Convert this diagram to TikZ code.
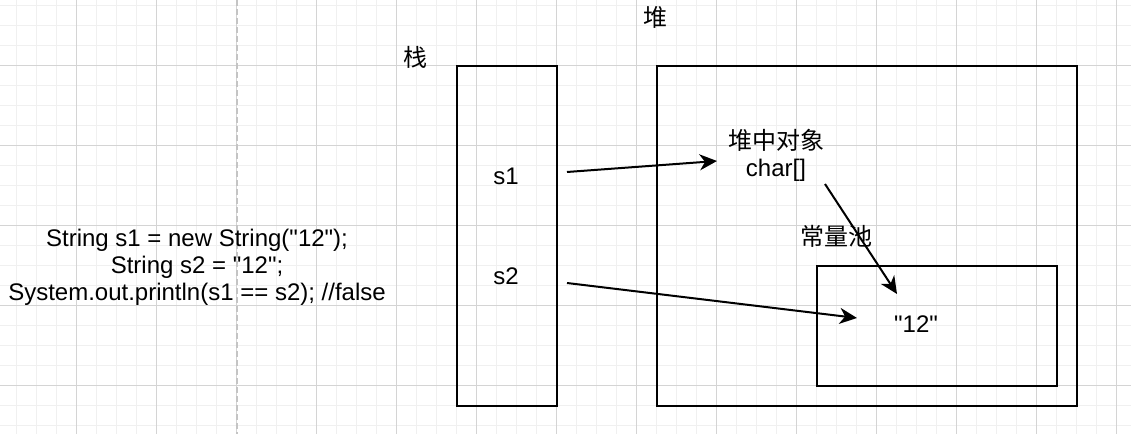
\documentclass[tikz,border=0pt]{standalone}
\usepackage{fontspec}
\setmainfont{Liberation Sans}
\newfontfamily\cjk{Noto Sans CJK SC}
\usetikzlibrary{arrows.meta}

\definecolor{gridminor}{HTML}{F0F0F0}
\definecolor{gridmajor}{HTML}{D4D4D4}
\definecolor{dashgray}{HTML}{C4C4C4}

\newcommand{\dq}{\textquotedbl}

\tikzset{
  membox/.style={draw=black, line width=1.5pt, inner sep=0pt},
  lbl/.style={inner sep=0pt, font=\fontsize{18}{20.25}\selectfont, align=center},
  ptr/.style={-{Stealth[length=13pt,width=12pt,inset=4pt]}, line width=1.5pt}
}

\begin{document}
\begin{tikzpicture}[x=0.75pt,y=-0.75pt]
\useasboundingbox (0,0) rectangle (1131,434);

% grid
\foreach \gx in {16.7,36.7,...,1131} \draw[gridminor, line width=0.75pt] (\gx,0) -- (\gx,434);
\foreach \gy in {5.3,25.3,...,434} \draw[gridminor, line width=0.75pt] (0,\gy) -- (1131,\gy);
\foreach \gx in {76.7,156.7,...,1131} \draw[gridmajor, line width=0.75pt] (\gx,0) -- (\gx,434);
\foreach \gy in {65.3,145.3,...,434} \draw[gridmajor, line width=0.75pt] (0,\gy) -- (1131,\gy);
\draw[dashgray, line width=1.5pt, dash pattern=on 4.5pt off 2.25pt] (237,0) -- (237,434);

% memory areas
\node[membox, minimum width=75pt, minimum height=255pt] (stack) at (507,236) {};
\node[membox, minimum width=315pt, minimum height=255pt] (heap) at (867,236) {};
\node[membox, minimum width=180pt, minimum height=90pt] (pool) at (937,326) {};

% labels
\node[lbl] (stackname) at (415,57) {\cjk 栈};
\node[lbl] (heapname) at (655,17) {\cjk 堆};
\node[lbl] (code) at (197,267) {String s1 = new String(\dq12\dq);\\String s2 = \dq12\dq;\\System.out.println(s1 == s2); //false};
\node[lbl] (s1) at (506,176) {s1};
\node[lbl] (s2) at (506,276) {s2};
\node[lbl] (obj) at (776,155) {{\cjk 堆中对象}\\char[]};
\node[lbl] (poolname) at (836,236) {\cjk 常量池};
\node[lbl] (str) at (916,324) {\dq12\dq};

% references
\coordinate (s1out) at (567,172);
\coordinate (s2out) at (567,283);
\coordinate (objin) at (717,161);
\coordinate (objout) at (825,184);
\coordinate (strin) at (857,318);
\coordinate (strtop) at (897,294);

\draw[ptr] (s1out) -- (objin);
\draw[ptr] (s2out) -- (strin);
\draw[ptr] (objout) -- (strtop);
\end{tikzpicture}
\end{document}
